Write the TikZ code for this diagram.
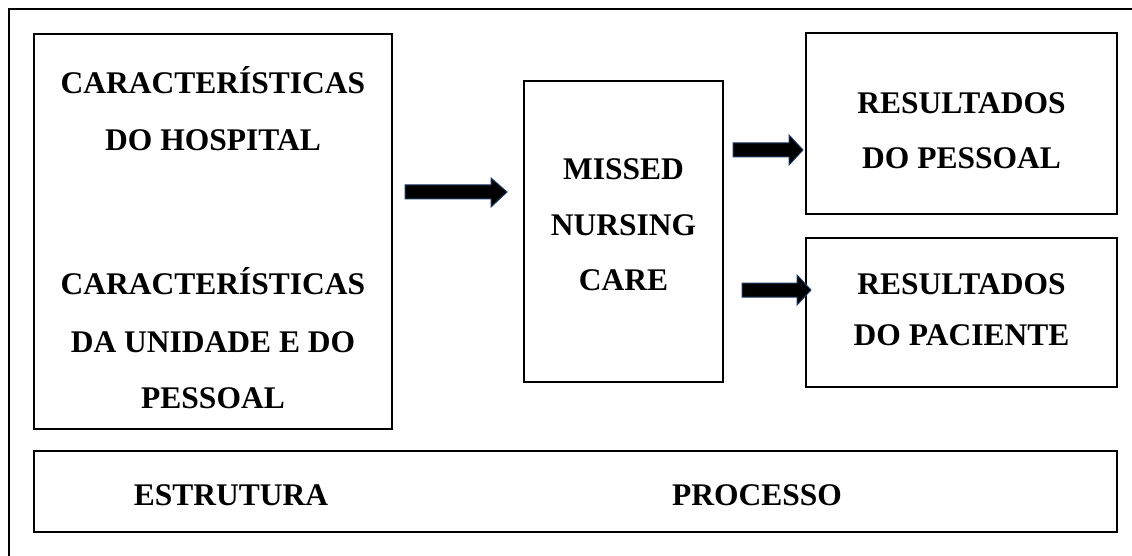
\documentclass[tikz,border=0pt]{standalone}
\usepackage{fontspec}
\setmainfont{Liberation Serif}
\begin{document}
\begin{tikzpicture}[x=1pt,y=-1pt,
  boxst/.style={draw=black,line width=2pt,inner sep=0pt},
  lbl/.style={anchor=base,inner sep=0pt,font=\fontsize{31.5}{36}\selectfont\bfseries},
  blockarrow/.style={fill=black,draw={rgb,255:red,31;green,56;blue,100},line width=1pt,line join=miter}]
\useasboundingbox (0,0) rectangle (1132,556);
% outer frame (open to right and bottom)
\draw[line width=2pt] (9,556) -- (9,9) -- (1132,9);
% boxes
\node[boxst,minimum width=358pt,minimum height=395pt] (left) at (213,231.5) {};
\node[boxst,minimum width=199pt,minimum height=301pt] (mid) at (623.5,231.5) {};
\node[boxst,minimum width=311pt,minimum height=181pt] (tr) at (961.5,123.5) {};
\node[boxst,minimum width=311pt,minimum height=149pt] (br) at (961.5,312.5) {};
\node[boxst,minimum width=1083pt,minimum height=81pt] (bot) at (575.5,491) {};
% texts
\node[lbl] (l1) at (213,94) {CARACTERÍSTICAS};
\node[lbl] (l2) at (213,151) {DO HOSPITAL};
\node[lbl] (l3) at (213,294) {CARACTERÍSTICAS};
\node[lbl] (l4) at (213,352) {DA UNIDADE E DO};
\node[lbl] (l5) at (213,408) {PESSOAL};
\node[lbl] (m1) at (623.5,180) {MISSED};
\node[lbl] (m2) at (623.5,236) {NURSING};
\node[lbl] (m3) at (623.5,290) {CARE};
\node[lbl] (t1) at (961.5,114) {RESULTADOS};
\node[lbl] (t2) at (961.5,169) {DO PESSOAL};
\node[lbl] (b1) at (961.5,294) {RESULTADOS};
\node[lbl] (b2) at (961.5,345) {DO PACIENTE};
\node[lbl] (e1) at (231,505) {ESTRUTURA};
\node[lbl] (p1) at (757,505) {PROCESSO};
% block arrows
\draw[blockarrow] (405,185) -- (491,185) -- (491,178) -- (507,192) -- (491,207) -- (491,199) -- (405,199) -- cycle;
\draw[blockarrow] (733,143) -- (789,143) -- (789,135) -- (803,150) -- (789,165) -- (789,157) -- (733,157) -- cycle;
\draw[blockarrow] (742,283) -- (797,283) -- (797,275) -- (811,290) -- (797,305) -- (797,297) -- (742,297) -- cycle;
\end{tikzpicture}
\end{document}
